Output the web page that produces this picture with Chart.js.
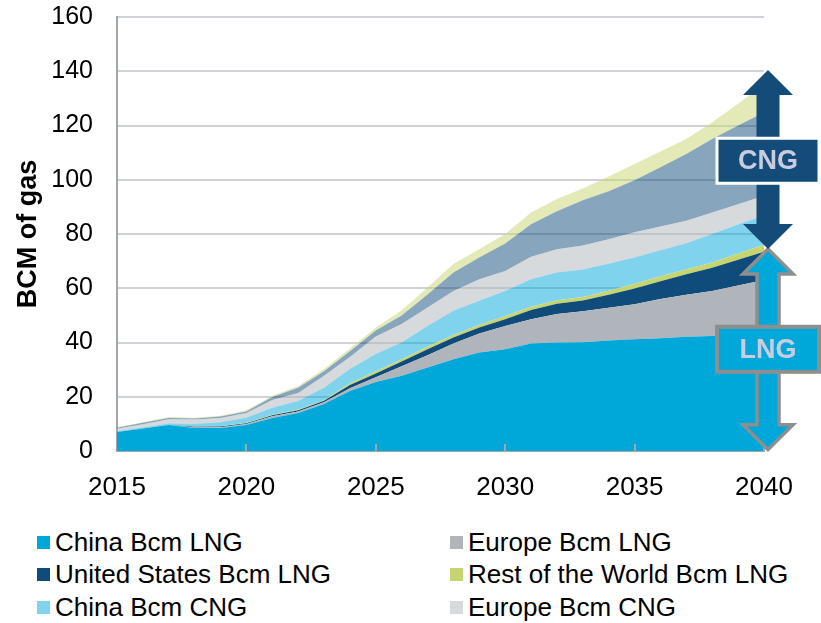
<!DOCTYPE html>
<html>
<head>
<meta charset="utf-8">
<title>LNG and CNG demand, BCM of gas</title>
<script src="https://cdn.jsdelivr.net/npm/chart.js@4.4.1/dist/chart.umd.min.js"></script>
<style>
  html, body { margin: 0; padding: 0; background: #fff; }
  #wrap { position: relative; width: 821px; height: 623px; font-family: "Liberation Sans", Arial, sans-serif; }
  #plot { position: absolute; left: 0; top: 0; width: 821px; height: 515px; }
  #legend { position: absolute; left: 37px; top: 526px; display: grid; grid-template-columns: 413px auto; grid-auto-rows: 32.5px; }
  .item { display: flex; align-items: center; font-size: 26px; color: #000; white-space: nowrap; }
  .swatch { width: 13px; height: 13px; margin-right: 5px; flex: none; }
</style>
</head>
<body>
<div id="wrap">
  <div id="plot"><canvas id="chart"></canvas></div>
  <div id="legend"></div>
</div>
<script>
const years = ['2015','2016','2017','2018','2019','2020','2021','2022','2023','2024','2025','2026','2027',
  '2028','2029','2030','2031','2032','2033','2034','2035','2036','2037','2038','2039','2040'];
const labelYears = ['2015','2020','2025','2030','2035','2040'];

// BCM per year, stacked bottom to top
const chinaLng  = [7.0,8.3,9.6,8.5,8.5,9.6,12.2,14.0,17.3,22.1,25.4,27.7,30.8,33.8,36.3,37.5,39.6,40.0,40.1,40.7,41.2,41.6,42.1,42.4,42.4,42.4];
const europeLng = [0,0,0,0.2,0.3,0.4,0.6,0.6,0.7,1.0,1.8,3.5,4.5,5.8,7.0,8.6,9.0,10.5,11.4,12.1,12.9,14.4,15.5,16.6,18.6,20.6];
const usLng     = [0,0,0,0.2,0.2,0.2,0.4,0.4,0.5,1.2,1.4,1.8,2.2,2.2,2.2,2.5,3.4,3.8,4.0,4.8,5.8,6.6,7.6,8.6,9.5,10.5];
const rowLng    = [0,0,0,0.1,0.1,0.2,0.2,0.3,0.2,0.7,0.8,0.8,1.0,1.0,1.0,1.2,1.2,1.3,1.3,1.5,1.8,1.8,1.8,1.9,2.3,2.5];
const chinaCng  = [0.3,0.4,0.5,1.0,1.5,1.9,2.5,3.1,4.6,5.2,6.4,6.2,7.6,8.9,8.9,9.2,10.1,10.2,10.1,9.9,9.6,9.6,9.6,10.5,10.7,10.7];
const europeCng = [0.9,1.2,1.6,1.6,1.6,1.7,2.9,3.0,4.4,4.5,6.4,6.8,6.8,7.3,7.9,7.4,8.3,8.6,8.9,9.1,9.3,8.8,8.3,7.9,7.5,7.4];
const usCng     = [0.4,0.5,0.5,0.4,0.5,0.6,1.1,1.9,1.7,2.1,2.2,3.2,4.8,6.8,8.0,10.1,12.0,14.0,16.6,17.7,19.2,21.8,24.6,27.1,29.0,30.7];
const rowCng    = [0.2,0.2,0.3,0.3,0.3,0.4,0.5,0.7,0.8,1.0,1.0,1.9,2.6,3.1,3.1,3.5,4.3,4.5,4.4,5.4,6.0,5.8,5.5,6.2,8.0,10.5];

const seriesNames = ['China Bcm LNG','Europe Bcm LNG','United States Bcm LNG','Rest of the World Bcm LNG',
  'China Bcm CNG','Europe Bcm CNG','United States Bcm CNG','Rest of the World Bcm CNG'];
const seriesData = [chinaLng, europeLng, usLng, rowLng, chinaCng, europeCng, usCng, rowCng];
const seriesColors = ['#00a7d9','#afb5bb','#0f4b7b','#c7d571',
  'rgba(0,167,217,0.5)','rgba(175,181,187,0.5)','rgba(15,75,123,0.5)','rgba(199,213,113,0.5)'];
const legendCount = 6;

// bracket arrows on the right: LNG total and CNG on top of it
const lngRange = [0.5, 74.5];
const cngRange = [74.5, 140.5];
const lngLabelAt = 37.5;
const cngLabelAt = 107;

const FONT = '"Liberation Sans", Arial, sans-serif';

function arrowPath(ctx, cx, yTop, yBot, shaft, head, headLen) {
  ctx.beginPath();
  ctx.moveTo(cx, yTop);
  ctx.lineTo(cx + head, yTop + headLen);
  ctx.lineTo(cx + shaft, yTop + headLen);
  ctx.lineTo(cx + shaft, yBot - headLen);
  ctx.lineTo(cx + head, yBot - headLen);
  ctx.lineTo(cx, yBot);
  ctx.lineTo(cx - head, yBot - headLen);
  ctx.lineTo(cx - shaft, yBot - headLen);
  ctx.lineTo(cx - shaft, yTop + headLen);
  ctx.lineTo(cx - head, yTop + headLen);
  ctx.closePath();
}

function labelBox(ctx, cx, cy, text, fill, stroke, strokeWidth) {
  const w = 102, h = 45;
  ctx.fillStyle = fill;
  ctx.fillRect(cx - w / 2, cy - h / 2, w, h);
  ctx.lineWidth = strokeWidth;
  ctx.strokeStyle = stroke;
  ctx.strokeRect(cx - w / 2, cy - h / 2, w, h);
  ctx.fillStyle = '#c9cce0';
  ctx.font = 'bold 27px ' + FONT;
  ctx.textAlign = 'center';
  ctx.textBaseline = 'middle';
  ctx.fillText(text, cx, cy + 1);
}

const overlay = {
  id: 'overlay',
  afterDatasetsDraw(chart) {
    // short inward tick marks on the year axis
    const {ctx, chartArea, scales: {x}} = chart;
    ctx.save();
    ctx.strokeStyle = '#a3a7ad';
    ctx.lineWidth = 2;
    labelYears.slice(1).forEach(yr => {
      const px = Math.round(x.getPixelForValue(years.indexOf(yr)));
      ctx.beginPath();
      ctx.moveTo(px, chartArea.bottom);
      ctx.lineTo(px, chartArea.bottom - 7);
      ctx.stroke();
    });
    ctx.restore();
  },
  afterDraw(chart) {
    const {ctx, scales: {x, y}} = chart;
    const cx = x.getPixelForValue(years.length - 1) + 4;
    ctx.save();
    ctx.lineJoin = 'miter';
    arrowPath(ctx, cx, y.getPixelForValue(lngRange[1]), y.getPixelForValue(lngRange[0]), 11, 25, 25);
    ctx.fillStyle = '#00a7d9';
    ctx.fill();
    ctx.lineWidth = 3.5;
    ctx.strokeStyle = '#8e8e8e';
    ctx.stroke();
    labelBox(ctx, cx, y.getPixelForValue(lngLabelAt), 'LNG', '#00a7d9', '#8e8e8e', 4);

    arrowPath(ctx, cx, y.getPixelForValue(cngRange[1]), y.getPixelForValue(cngRange[0]), 11.5, 25, 25);
    ctx.fillStyle = '#134c79';
    ctx.fill();
    labelBox(ctx, cx, y.getPixelForValue(cngLabelAt), 'CNG', '#134c79', '#ffffff', 3);
    ctx.restore();
  }
};

const datasets = seriesData.map((d, i) => ({
  label: seriesNames[i],
  data: d,
  backgroundColor: seriesColors[i],
  borderWidth: 0,
  pointRadius: 0,
  tension: 0,
  fill: i === 0 ? 'origin' : '-1'
}));

new Chart(document.getElementById('chart'), {
  type: 'line',
  data: { labels: years, datasets },
  plugins: [overlay],
  options: {
    responsive: true,
    maintainAspectRatio: false,
    animation: false,
    layout: { padding: { top: 17, right: 57, left: 0, bottom: 0 } },
    plugins: { legend: { display: false }, tooltip: { enabled: false } },
    scales: {
      x: {
        grid: { display: false },
        border: { display: true, color: '#a3a7ad', width: 2 },
        ticks: {
          autoSkip: false,
          maxRotation: 0,
          padding: 13,
          color: '#000',
          font: { family: FONT, size: 26 },
          callback(value) {
            const yr = years[value];
            return labelYears.includes(yr) ? yr : null;
          }
        },
        afterFit(scale) {
          scale.height = 64;
          scale.paddingLeft = 0;
          scale.paddingRight = 0;
        }
      },
      y: {
        stacked: true,
        min: 0,
        max: 160,
        grid: { color: '#cfd2d7', lineWidth: 2, drawTicks: false },
        border: { display: true, color: '#a3a7ad', width: 2 },
        ticks: {
          stepSize: 20,
          padding: 24,
          color: '#000',
          font: { family: FONT, size: 25 }
        },
        title: {
          display: true,
          text: 'BCM of gas',
          color: '#000',
          font: { family: FONT, size: 27, weight: 'bold' },
          padding: { top: 12, bottom: 0 }
        },
        afterFit(scale) {
          scale.width = 117;
          scale.paddingTop = 0;
          scale.paddingBottom = 0;
        }
      }
    }
  }
});

const legend = document.getElementById('legend');
seriesNames.slice(0, legendCount).forEach((name, i) => {
  const item = document.createElement('div');
  item.className = 'item';
  item.innerHTML = `<span class="swatch" style="background:${seriesColors[i]}"></span>${name}`;
  legend.appendChild(item);
});
</script>
</body>
</html>
